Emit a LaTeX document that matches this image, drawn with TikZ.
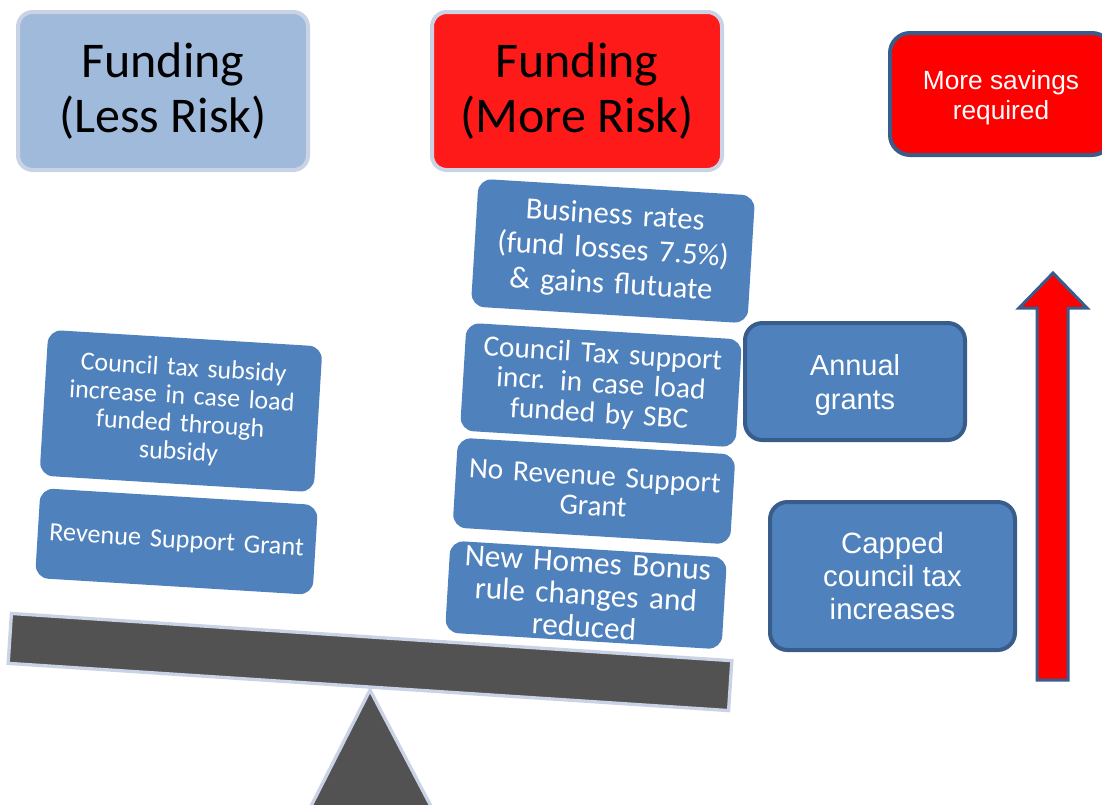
\documentclass[tikz,border=0pt]{standalone}
\usepackage{fontspec}
\setmainfont{Carlito}
\newfontfamily\arialfont{Liberation Sans}
\definecolor{headblue}{RGB}{160,186,220}
\definecolor{headedge}{RGB}{201,211,229}
\definecolor{headred}{RGB}{255,26,26}
\definecolor{boxblue}{RGB}{79,129,189}
\definecolor{boxedge}{RGB}{56,93,138}
\definecolor{beamgrey}{RGB}{82,82,82}
\definecolor{alertred}{RGB}{255,0,0}
\tikzset{
  header/.style={draw=headedge, line width=3pt, rounded corners=11pt,
    minimum width=217.5pt, minimum height=118.5pt, align=center,
    font=\fontsize{37.5}{41}\selectfont, text=black},
  tile/.style={fill=boxblue, rounded corners=10pt, rotate=-3.5,
    align=center, text=white, inner sep=2pt},
  sidebox/.style={draw=boxedge, line width=3pt, rounded corners=13pt,
    fill=boxblue, align=center, text=white},
  scalepart/.style={fill=beamgrey, draw=headedge, line width=2.5pt},
}
\begin{document}
\begin{tikzpicture}[x=0.75pt, y=-0.75pt]
\useasboundingbox (0,0) rectangle (1102,804);

% column headings
\node[header, fill=headblue] (less) at (163,91) {Funding\\(Less Risk)};
\node[header, fill=headred] (more) at (577,91) {Funding\\(More Risk)};

% savings box, running off the right edge
\node[draw=boxedge, line width=3pt, rounded corners=15pt, fill=alertred,
  minimum width=166.5pt, minimum height=91.5pt] (savings) at (1001,94) {};
\node[align=center, text=white,
  font=\arialfont\fontsize{19.7}{22.5}\selectfont] (savingstext)
  at ([yshift=-2.5pt]savings.center) {More savings\\required};

% the see-saw: beam and fulcrum
\draw[scalepart] (370,690) -- (308,812) -- (434,812) -- cycle;
\node[scalepart, rotate=-3.75, minimum width=541.5pt, minimum height=37.5pt,
  inner sep=0pt] (beam) at (370,662) {};

% low-risk side
\node[tile, minimum width=206pt, minimum height=109.5pt, text width=195pt,
  font=\fontsize{19.5}{21}\selectfont] (subsidy) at (181,411)
  {Council tax subsidy\\increase in case load\\funded through\\subsidy};
\node[tile, minimum width=208.5pt, minimum height=67.5pt, text width=200pt,
  font=\fontsize{19.7}{22}\selectfont] (rsg) at (176.5,541.5)
  {Revenue Support Grant};

% high-risk side
\node[tile, minimum width=207.75pt, minimum height=96pt, text width=200pt,
  font=\fontsize{23}{26}\selectfont] (rates) at (613,251)
  {Business rates\\(fund losses 7.5\%)\\\&{} gains flutuate};
\node[tile, minimum width=207pt, minimum height=81pt, text width=200pt,
  font=\fontsize{22}{22.5}\selectfont] (support) at (601,385)
  {Council Tax support\\incr. in case load\\funded by SBC};
\node[tile, minimum width=208.5pt, minimum height=67.5pt, text width=200pt,
  font=\fontsize{22}{22.5}\selectfont] (norsg) at (594,491)
  {No Revenue Support\\Grant};
\node[tile, minimum width=207.75pt, minimum height=69pt, text width=200pt,
  font=\fontsize{23.5}{24}\selectfont] (nhb) at (586,595)
  {New Homes Bonus\\rule changes and\\reduced};

% pressures on the right
\node[sidebox, minimum width=165pt, minimum height=87.75pt] (grants)
  at (855,381.5) {};
\node[align=center, text=white,
  font=\arialfont\fontsize{21.7}{25.5}\selectfont] (grantstext)
  at ([yshift=-2.5pt]grants.center) {Annual\\grants};
\node[sidebox, minimum width=183.75pt, minimum height=111pt,
  font=\arialfont\fontsize{22}{25}\selectfont] (capped) at (892.5,576)
  {Capped\\council tax\\increases};

% upward arrow
\draw[fill=alertred, draw=boxedge, line width=2.25pt, line join=miter]
  (1053,273) -- (1087,308) -- (1068,308) -- (1068,680) -- (1037,680)
  -- (1037,308) -- (1019,308) -- cycle;
\end{tikzpicture}
\end{document}
